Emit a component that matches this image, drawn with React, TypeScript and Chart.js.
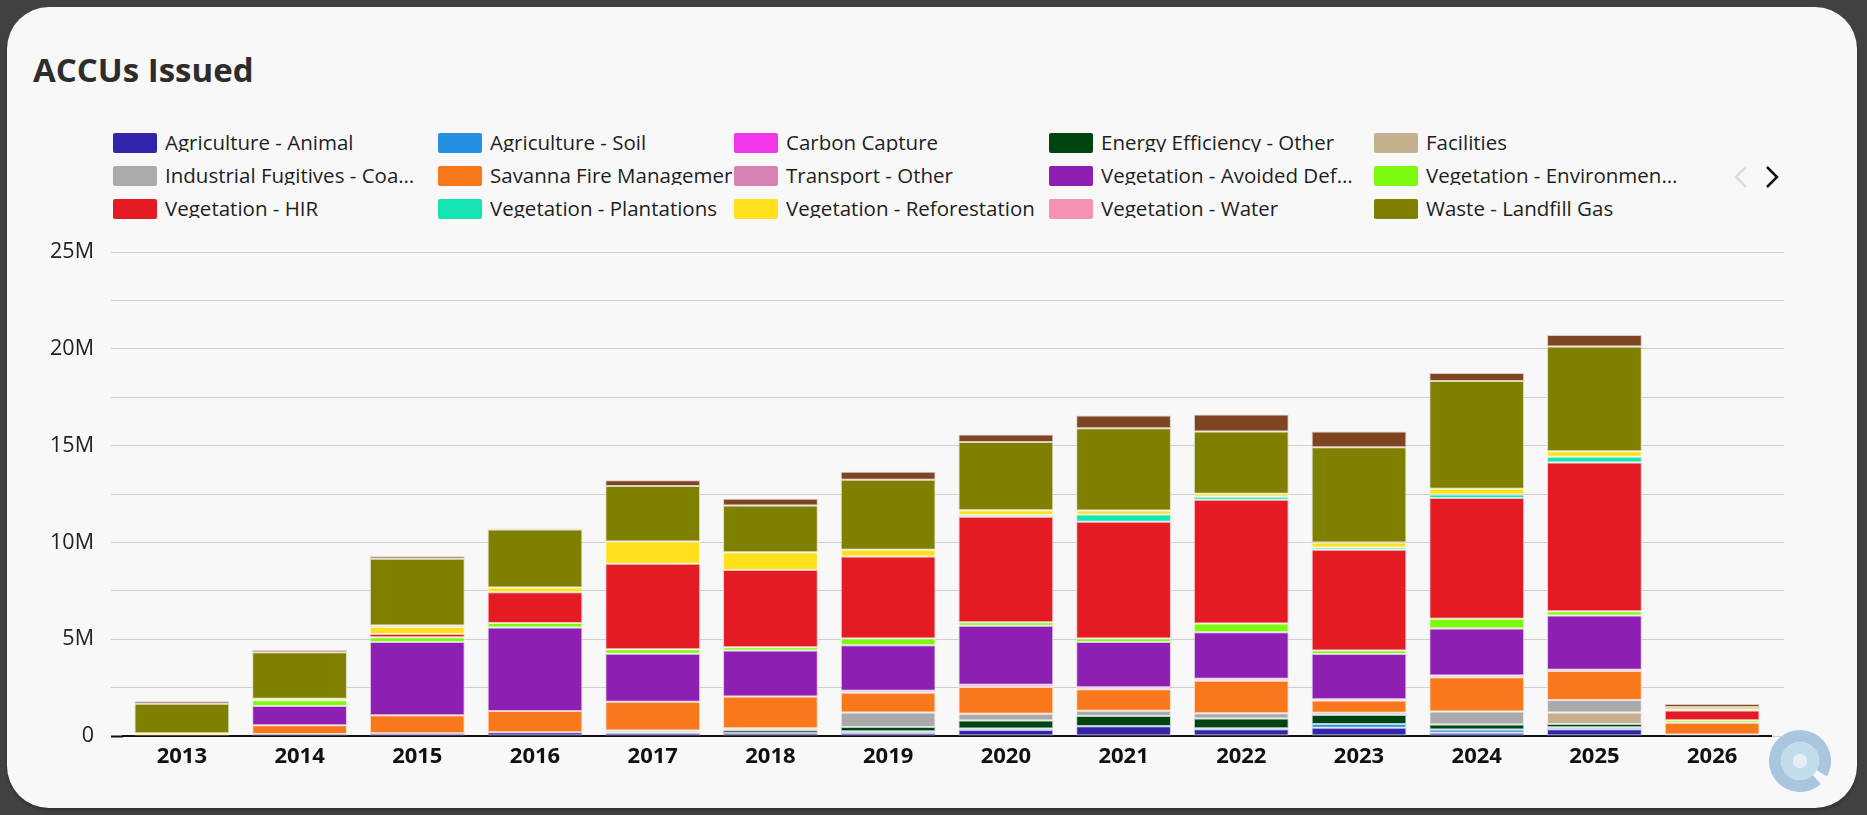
import React, { useEffect, useRef } from 'react';
import { Chart, registerables } from 'chart.js';

Chart.register(...registerables);

// ---------- DATA (values in millions of ACCUs) ----------
const years = ['2013', '2014', '2015', '2016', '2017', '2018', '2019', '2020', '2021', '2022', '2023', '2024', '2025', '2026'];

const seriesNames = [
  'Agriculture - Animal',
  'Agriculture - Soil',
  'Carbon Capture',
  'Energy Efficiency - Other',
  'Facilities',
  'Industrial Fugitives - Coal Mine Waste Gas',
  'Savanna Fire Management',
  'Transport - Other',
  'Vegetation - Avoided Deforestation',
  'Vegetation - Environmental Plantings',
  'Vegetation - HIR',
  'Vegetation - Plantations',
  'Vegetation - Reforestation',
  'Vegetation - Water',
  'Waste - Landfill Gas',
  'Waste - Wastewater',
];

const seriesColors = [
  '#3325a9', '#2590e2', '#f036e8', '#004412', '#c4af8f', '#aaaaaa', '#fa781c', '#d882b3',
  '#8e1fb3', '#7ef711', '#e51b23', '#13e4b0', '#ffe01c', '#f592b3', '#7f7f00', '#7f4522',
];

const agricultureAnimal = [0.02, 0.10, 0.14, 0.20, 0.15, 0.15, 0.15, 0.31, 0.50, 0.35, 0.43, 0.17, 0.35, 0.05];
const agricultureSoil = [0, 0, 0, 0, 0.03, 0, 0.10, 0.08, 0.02, 0.05, 0.19, 0.16, 0.10, 0];
const carbonCapture = [0, 0, 0, 0, 0, 0, 0, 0, 0, 0, 0, 0, 0, 0];
const energyEfficiency = [0, 0, 0, 0, 0, 0.15, 0.22, 0.41, 0.51, 0.50, 0.47, 0.27, 0.17, 0.03];
const facilities = [0, 0, 0, 0, 0, 0, 0, 0, 0, 0, 0, 0, 0.59, 0];
const industrialFugitives = [0, 0, 0, 0, 0.10, 0.10, 0.74, 0.35, 0.28, 0.27, 0.11, 0.66, 0.65, 0];
const savannaFire = [0, 0.45, 0.93, 1.09, 1.49, 1.64, 1.03, 1.38, 1.10, 1.69, 0.63, 1.77, 1.50, 0.61];
const transportOther = [0, 0, 0, 0, 0, 0, 0.10, 0.12, 0.11, 0.10, 0.07, 0.09, 0.06, 0];
const avoidedDeforestation = [0, 1.00, 3.79, 4.31, 2.48, 2.38, 2.35, 3.05, 2.34, 2.40, 2.34, 2.43, 2.81, 0];
const environmentalPlantings = [0, 0.30, 0.24, 0.24, 0.23, 0.17, 0.34, 0.17, 0.17, 0.45, 0.17, 0.50, 0.21, 0.12];
const vegetationHIR = [0, 0, 0.17, 1.58, 4.42, 3.98, 4.24, 5.45, 6.04, 6.39, 5.21, 6.24, 7.69, 0.51];
const plantations = [0, 0, 0, 0, 0, 0, 0, 0.10, 0.37, 0.16, 0.12, 0.19, 0.29, 0];
const reforestation = [0.12, 0.07, 0.36, 0.25, 1.15, 0.92, 0.35, 0.24, 0.21, 0.15, 0.26, 0.29, 0.29, 0.08];
const vegetationWater = [0, 0, 0.08, 0, 0, 0, 0, 0, 0, 0, 0, 0, 0, 0];
const landfillGas = [1.53, 2.40, 3.44, 3.00, 2.86, 2.41, 3.61, 3.53, 4.24, 3.22, 4.91, 5.57, 5.41, 0.10];
const wastewater = [0.12, 0.12, 0.14, 0.05, 0.30, 0.36, 0.42, 0.38, 0.66, 0.87, 0.82, 0.41, 0.59, 0.15];

const seriesValues = [
  agricultureAnimal, agricultureSoil, carbonCapture, energyEfficiency, facilities,
  industrialFugitives, savannaFire, transportOther, avoidedDeforestation, environmentalPlantings,
  vegetationHIR, plantations, reforestation, vegetationWater, landfillGas, wastewater,
];

const yMax = 25;
const yStep = 2.5;
const yLabelEvery = 5;
const legendVisibleCount = 15;

// ---------- helpers ----------
function tint(hex: string, amt: number): string {
  const n = parseInt(hex.slice(1), 16);
  const r = (n >> 16) & 255, g = (n >> 8) & 255, b = n & 255;
  const m = (c: number) => Math.round(c + (255 - c) * amt);
  return `rgb(${m(r)},${m(g)},${m(b)})`;
}

const FONT = "'Open Sans', 'Noto Sans', sans-serif";
const GRID = '#cfcfcf';

const legendCols = [113, 438, 734, 1049, 1374];
const legendRows = [133, 166, 199];
const LEGEND_BOX_W = 44;
const LEGEND_GAP = 8;
const LEGEND_TEXT_MAX = 252;

export default function App() {
  const canvasRef = useRef<HTMLCanvasElement | null>(null);

  useEffect(() => {
    if (!canvasRef.current) return;
    Chart.defaults.font.family = FONT;
    const chart = new Chart(canvasRef.current, {
      type: 'bar',
      data: {
        labels: years,
        datasets: seriesNames.map((name, i) => ({
          label: name,
          data: seriesValues[i],
          backgroundColor: seriesColors[i],
          borderColor: tint(seriesColors[i], 0.72),
          borderWidth: 1,
          borderSkipped: false,
          barPercentage: 0.805,
          categoryPercentage: 1,
          stack: 'all',
        })),
      },
      options: {
        responsive: false,
        animation: false,
        events: [],
        layout: { padding: { top: 252, left: 0, right: 83, bottom: 29 } },
        plugins: {
          legend: { display: false },
          tooltip: { enabled: false },
          title: { display: false },
        },
        scales: {
          x: {
            stacked: true,
            offset: true,
            grid: { display: false, drawTicks: false },
            border: { display: true, color: '#111111', width: 2 },
            ticks: {
              color: '#111111',
              font: { family: FONT, size: 22, weight: 'bold' },
              padding: 8,
              maxRotation: 0,
              autoSkip: false,
            },
            afterFit: (s: any) => { s.height = 50; },
          },
          y: {
            stacked: true,
            min: 0,
            max: yMax,
            border: { display: false },
            grid: {
              color: (ctx: any) => (ctx.tick && ctx.tick.value === 0 ? 'rgba(0,0,0,0)' : GRID),
              lineWidth: 1,
              tickLength: 12,
              tickColor: (ctx: any) => (ctx.tick && ctx.tick.value === 0 ? '#111111' : GRID),
              tickWidth: (ctx: any) => (ctx.tick && ctx.tick.value === 0 ? 2 : 1),
            },
            ticks: {
              stepSize: yStep,
              color: '#222222',
              font: { family: FONT, size: 21.5 },
              padding: 17,
              callback: (v: any) => {
                const n = Number(v);
                if (n % yLabelEvery !== 0) return '';
                return n === 0 ? '0' : `${n}M`;
              },
            },
            afterFit: (s: any) => { s.width = 123; },
          },
          yRight: {
            position: 'right',
            min: 0,
            max: yMax,
            border: { display: false },
            grid: { drawOnChartArea: false, tickLength: 13, color: GRID, lineWidth: 1 },
            ticks: { display: false, stepSize: yStep },
          },
        },
      } as any,
    });
    return () => chart.destroy();
  }, []);

  const legendItems = seriesNames.slice(0, legendVisibleCount);

  return (
    <div style={{ position: 'fixed', left: 0, top: 0, width: 1867, height: 815, background: '#414141', overflow: 'hidden' }}>
      <div
        style={{
          position: 'absolute', left: 7, top: 7, width: 1850, height: 801,
          background: '#f8f8f8', borderRadius: 42, boxShadow: '0 2px 3px rgba(0,0,0,0.25)',
        }}
      />
      <div
        style={{
          position: 'absolute', left: 33, top: 53, fontFamily: FONT, fontWeight: 700,
          fontSize: 33, lineHeight: '33px', color: '#2d2d2d', whiteSpace: 'nowrap',
        }}
      >
        ACCUs Issued
      </div>
      {legendItems.map((name, i) => {
        const col = i % 5;
        const row = Math.floor(i / 5);
        const textStart = legendCols[col] + LEGEND_BOX_W + LEGEND_GAP;
        const room = col < legendCols.length - 1 ? legendCols[col + 1] - textStart - 2 : LEGEND_TEXT_MAX;
        const clipToNext = room < LEGEND_TEXT_MAX;
        return (
          <div
            key={name}
            style={{
              position: 'absolute', left: legendCols[col], top: legendRows[row], height: 20,
              display: 'flex', alignItems: 'center',
            }}
          >
            <div style={{ width: LEGEND_BOX_W, height: 20, borderRadius: 2, background: seriesColors[i], flex: 'none' }} />
            <div
              style={{
                marginLeft: LEGEND_GAP, maxWidth: clipToNext ? room : LEGEND_TEXT_MAX, overflow: 'hidden',
                textOverflow: clipToNext ? 'clip' : 'ellipsis', whiteSpace: 'nowrap',
                fontFamily: FONT, fontSize: 20.5, lineHeight: '20px', color: '#1e1e1e', position: 'relative', top: -1,
              }}
            >
              {name}
            </div>
          </div>
        );
      })}
      <svg style={{ position: 'absolute', left: 0, top: 0 }} width={1867} height={815}>
        <polyline points="1746,167 1736,177 1746,187" fill="none" stroke="#dcdcdc" strokeWidth={2.5} />
        <polyline points="1767,167 1777,177 1767,187" fill="none" stroke="#111111" strokeWidth={2.5} />
        <g transform="translate(1800,761)">
          <circle r={25} fill="none" stroke="#a9c5df" strokeWidth={12} strokeDasharray="148 9" transform="rotate(48)" />
          <circle r={13} fill="none" stroke="#c3dcec" strokeWidth={12} />
          <circle r={7} fill="#e5eef5" />
        </g>
      </svg>
      <canvas ref={canvasRef} width={1867} height={815} style={{ position: 'absolute', left: 0, top: 0 }} />
    </div>
  );
}
